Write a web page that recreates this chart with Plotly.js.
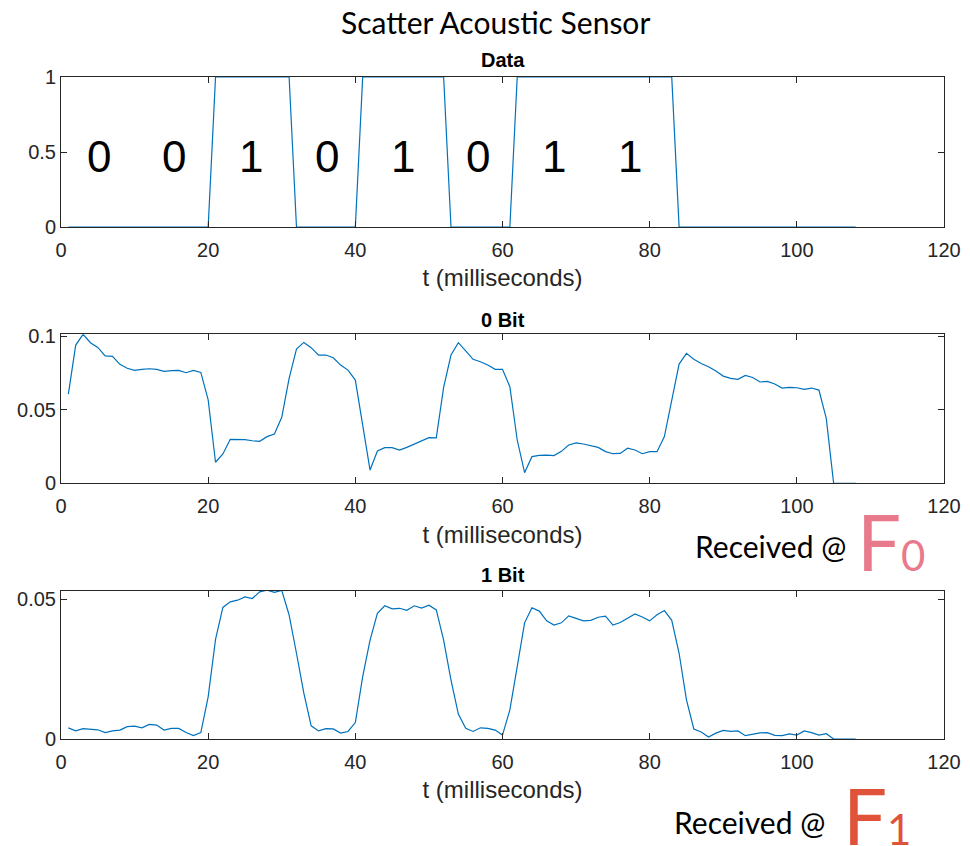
<!DOCTYPE html>
<html>
<head>
<meta charset="utf-8">
<script src="https://cdn.plot.ly/plotly-3.0.1.min.js"></script>
<style>html,body{margin:0;padding:0;background:#fff;}#chart{width:970px;height:846px;}</style>
</head>
<body>
<div id="chart"></div>
<script>
// ---------- data ----------
const t = [];
for (let i = 1; i <= 108; i++) t.push(i);

const dataBits = [
  0,0,0,0,0,0,0,0,0,0, 0,0,0,0,0,0,0,0,0,0,   // 1-20
  1,1,1,1,1,1,1,1,1,1, 1,                      // 21-31
  0,0,0,0,0,0,0,0,0,                           // 32-40
  1,1,1,1,1,1,1,1,1,1, 1,1,                    // 41-52
  0,0,0,0,0,0,0,0,0,                           // 53-61
  1,1,1,1,1,1,1,1,1,1, 1,1,1,1,1,1,1,1,1,1, 1,1, // 62-83
  0,0,0,0,0,0,0,0,0,0, 0,0,0,0,0,0,0,0,0,0, 0,0,0,0,0 // 84-108
];

const bit0 = [
  0.0606,0.0939,0.1012,0.0955,0.0923,0.0866,0.0862,0.0808,0.0781,0.0767,
  0.0774,0.0778,0.0774,0.0760,0.0765,0.0767,0.0751,0.0767,0.0753,0.0566,
  0.0143,0.0199,0.0299,0.0297,0.0297,0.0289,0.0285,0.0317,0.0335,0.0448,
  0.0713,0.0912,0.0957,0.0921,0.0871,0.0871,0.0853,0.0803,0.0769,0.0701,
  0.0396,0.0090,0.0219,0.0242,0.0242,0.0226,0.0244,0.0267,0.0287,0.0310,
  0.0308,0.0652,0.0871,0.0955,0.0900,0.0842,0.0826,0.0803,0.0774,0.0774,
  0.0656,0.0294,0.0072,0.0181,0.0190,0.0192,0.0188,0.0217,0.0260,0.0274,
  0.0267,0.0253,0.0244,0.0215,0.0201,0.0203,0.0238,0.0226,0.0201,0.0215,
  0.0215,0.0317,0.0566,0.0810,0.0883,0.0842,0.0814,0.0792,0.0762,0.0728,
  0.0713,0.0706,0.0733,0.0719,0.0688,0.0692,0.0674,0.0647,0.0652,0.0649,
  0.0638,0.0647,0.0633,0.0441,0,0,0,0
];

const bit1 = [
  0.0040,0.0029,0.0037,0.0034,0.0033,0.0023,0.0029,0.0032,0.0044,0.0046,
  0.0040,0.0052,0.0050,0.0032,0.0038,0.0038,0.0023,0.0012,0.0023,0.0151,
  0.0357,0.0471,0.0491,0.0497,0.0509,0.0503,0.0527,0.0533,0.0525,0.0532,
  0.0444,0.0307,0.0164,0.0047,0.0029,0.0037,0.0036,0.0021,0.0027,0.0059,
  0.0223,0.0354,0.0450,0.0477,0.0466,0.0468,0.0461,0.0477,0.0469,0.0479,
  0.0462,0.0354,0.0211,0.0089,0.0038,0.0027,0.0040,0.0038,0.0032,0.0014,
  0.0104,0.0259,0.0416,0.0470,0.0458,0.0423,0.0408,0.0416,0.0441,0.0432,
  0.0423,0.0425,0.0436,0.0440,0.0408,0.0417,0.0431,0.0448,0.0437,0.0423,
  0.0445,0.0460,0.0425,0.0307,0.0140,0.0036,0.0025,0.0007,0.0021,0.0031,
  0.0027,0.0029,0.0012,0.0018,0.0022,0.0023,0.0013,0.0012,0.0018,0.0014,
  0.0029,0.0023,0.0014,0.0019,0,0,0,0
];

const bitLabels  = ["0","0","1","0","1","0","1","1"];
const bitCenters = [5.2, 15.4, 25.8, 36.1, 46.5, 56.7, 67.0, 77.3];

const xTicks = [0, 20, 40, 60, 80, 100, 120];
const y1Ticks = [0, 0.5, 1],   y1Text = ["0", "0.5", "1"];
const y2Ticks = [0, 0.05, 0.1], y2Text = ["0", "0.05", "0.1"];
const y3Ticks = [0, 0.05],      y3Text = ["0", "0.05"];

const panelTitles = ["Data", "0 Bit", "1 Bit"];
const xTitle = "t (milliseconds)";

// ---------- layout helpers ----------
const W = 970, H = 846;
const px = x => x / W;
const py = y => 1 - y / H;

const LINE = '#0072BD';
const AX = '#262626';
const FONT = 'Liberation Sans, Arial, Helvetica, sans-serif';
const HUM = 'Lato, Open Sans, sans-serif';

function xAxis(anchor) {
  return {
    domain: [px(61), px(944)], anchor: anchor, range: [0, 120],
    tickvals: xTicks, ticktext: xTicks.map(String),
    ticks: 'inside', ticklen: 6, tickwidth: 1, tickcolor: AX,
    showline: true, linecolor: AX, linewidth: 1, mirror: 'ticks',
    showgrid: false, zeroline: false,
    tickfont: {family: FONT, size: 20, color: AX},
    ticklabelstandoff: 5,
    title: {text: xTitle, font: {family: FONT, size: 24, color: AX}, standoff: 9},
    fixedrange: true
  };
}
function yAxis(anchor, dom, range, vals, txt) {
  return {
    domain: dom, anchor: anchor, range: range,
    tickvals: vals, ticktext: txt,
    ticks: 'inside', ticklen: 6, tickwidth: 1, tickcolor: AX,
    showline: true, linecolor: AX, linewidth: 1, mirror: 'ticks',
    showgrid: false, zeroline: false,
    tickfont: {family: FONT, size: 20, color: AX},
    fixedrange: true
  };
}

const traces = [
  {x: t, y: dataBits, type: 'scatter', mode: 'lines', line: {color: LINE, width: 1.2}, xaxis: 'x', yaxis: 'y', hoverinfo: 'skip'},
  {x: t, y: bit0, type: 'scatter', mode: 'lines', line: {color: LINE, width: 1.2}, xaxis: 'x2', yaxis: 'y2', hoverinfo: 'skip'},
  {x: t, y: bit1, type: 'scatter', mode: 'lines', line: {color: LINE, width: 1.2}, xaxis: 'x3', yaxis: 'y3', hoverinfo: 'skip'}
];

const annotations = [];
// panel titles
const titleY = [60, 320, 575];
panelTitles.forEach((s, i) => annotations.push({
  text: '<b>' + s + '</b>', xref: 'paper', yref: 'paper', x: px(502.5), y: py(titleY[i]),
  xanchor: 'center', yanchor: 'middle', showarrow: false,
  font: {family: FONT, size: 20, color: '#000'}
}));
// bit digits
bitLabels.forEach((s, i) => annotations.push({
  text: s, xref: 'x', yref: 'y', x: bitCenters[i], y: 0.467,
  xanchor: 'center', yanchor: 'middle', showarrow: false,
  font: {family: FONT, size: 44, color: '#000'}
}));
// main title
annotations.push({
  text: 'Scatter Acoustic Sensor', xref: 'paper', yref: 'paper', x: px(496), y: py(22),
  xanchor: 'center', yanchor: 'middle', showarrow: false,
  font: {family: HUM, size: 30, color: '#000'}
});
// Received @ F0
annotations.push({text: 'Received @', xref: 'paper', yref: 'paper', x: px(770), y: py(546),
  xanchor: 'center', yanchor: 'middle', showarrow: false, font: {family: HUM, size: 30, color: '#000'}});
annotations.push({text: 'F<span style="font-size:42px">0</span>', xref: 'paper', yref: 'paper',
  x: px(855), y: py(541), xanchor: 'left', yanchor: 'middle', showarrow: false,
  font: {family: HUM, size: 78, color: '#E97A8C'}});
// Received @ F1
annotations.push({text: 'Received @', xref: 'paper', yref: 'paper', x: px(749), y: py(822),
  xanchor: 'center', yanchor: 'middle', showarrow: false, font: {family: HUM, size: 30, color: '#000'}});
annotations.push({text: 'F<span style="font-size:42px">1</span>', xref: 'paper', yref: 'paper',
  x: px(841), y: py(815), xanchor: 'left', yanchor: 'middle', showarrow: false,
  font: {family: HUM, size: 78, color: '#E0533A'}});

const layout = {
  width: W, height: H,
  margin: {l: 0, r: 0, t: 0, b: 0},
  paper_bgcolor: '#fff', plot_bgcolor: '#fff',
  showlegend: false,
  xaxis: xAxis('y'),
  yaxis: yAxis('x', [py(227), py(77)], [0, 1], y1Ticks, y1Text),
  xaxis2: xAxis('y2'),
  yaxis2: yAxis('x2', [py(483.3), py(334.3)], [0, 0.1012], y2Ticks, y2Text),
  xaxis3: xAxis('y3'),
  yaxis3: yAxis('x3', [py(739), py(590.7)], [0, 0.0531], y3Ticks, y3Text),
  annotations: annotations
};

Plotly.newPlot('chart', traces, layout, {staticPlot: true, displayModeBar: false});
</script>
</body>
</html>
